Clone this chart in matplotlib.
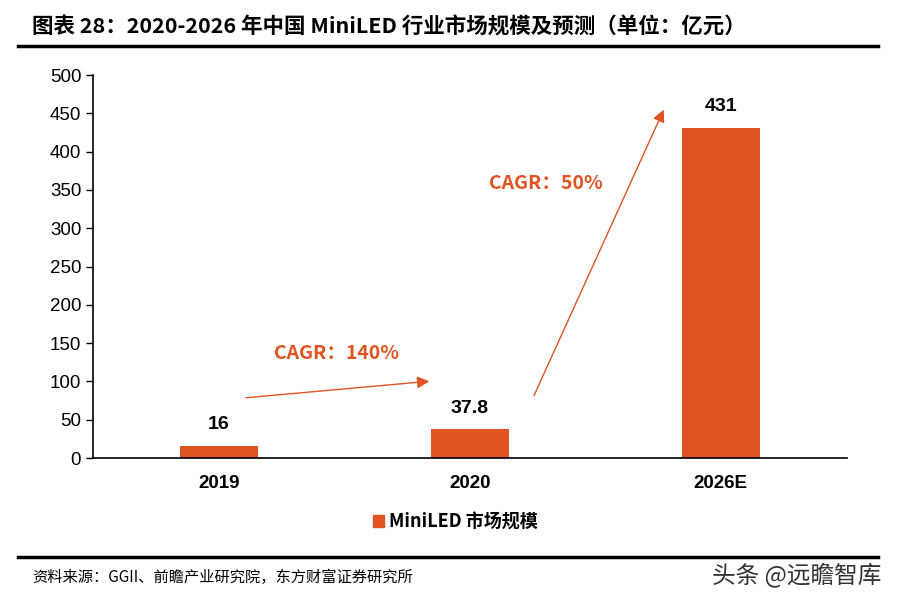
import matplotlib.pyplot as plt
from matplotlib.patches import Patch

plt.rcParams['font.family'] = ['Liberation Sans', 'Noto Sans CJK SC', 'DejaVu Sans']

years = ['2019', '2020', '2026E']
market = [16, 37.8, 431]
value_labels = ['16', '37.8', '431']
bar_color = '#E05424'

fig = plt.figure(figsize=(8.98, 6.02), dpi=100)
ax = fig.add_axes([0.1036, 0.2392, 0.8394, 0.6362])

x = range(len(years))
ax.bar(x, market, width=0.31, color=bar_color)
for xi, v, lab in zip(x, market, value_labels):
    ax.annotate(lab, (xi, v), xytext=(0, 9), textcoords='offset points',
                ha='center', va='bottom', fontsize=14, fontweight='bold')

ax.set_xlim(-0.502, 2.502)
ax.set_ylim(0, 500)
ax.set_yticks(range(0, 501, 50))
ax.set_xticks(list(x))
ax.set_xticklabels(years, fontweight='bold')
ax.tick_params(axis='y', labelsize=13.5, direction='out', length=5, width=1)
ax.tick_params(axis='x', labelsize=13.5, length=0, pad=12)
for s in ['top', 'right']:
    ax.spines[s].set_visible(False)
ax.spines['left'].set_linewidth(1.2)
ax.spines['bottom'].set_linewidth(1.2)

# CAGR arrows
arrow = dict(arrowstyle='-|>', color=bar_color, lw=1, mutation_scale=18)
ax.annotate('', xy=(0.849, 100.5), xytext=(0.096, 78.3), arrowprops=arrow)
ax.annotate('', xy=(1.777, 458), xytext=(1.251, 78.3), arrowprops=arrow)
ax.text(0.47, 135.8, 'CAGR：140%', color=bar_color, fontsize=14, fontweight='bold',
        ha='center', va='center', family=['Noto Sans CJK SC', 'DejaVu Sans'])
ax.text(1.303, 359, 'CAGR：50%', color=bar_color, fontsize=14, fontweight='bold',
        ha='center', va='center', family=['Noto Sans CJK SC', 'DejaVu Sans'])

leg = fig.legend(handles=[Patch(color=bar_color)], labels=['MiniLED 市场规模'],
                 loc='center', bbox_to_anchor=(0.507, 0.133), frameon=False,
                 handlelength=0.6, handleheight=0.6, handletextpad=0.3,
                 prop={'family': 'Noto Sans CJK SC', 'weight': 'bold', 'size': 13})

# title and footer
fig.text(0.036, 0.955, '图表 28：2020-2026 年中国 MiniLED 行业市场规模及预测（单位：亿元）',
         fontsize=15.5, fontweight='bold', va='center', family='Noto Sans CJK SC')
fig.add_artist(plt.Line2D([0.02, 0.978], [0.923, 0.923], color='black', lw=2.5))
fig.add_artist(plt.Line2D([0.02, 0.978], [0.075, 0.075], color='black', lw=2.5))
fig.text(0.036, 0.04, '资料来源：GGII、前瞻产业研究院，东方财富证券研究所',
         fontsize=11, va='center', family='Noto Sans CJK SC')
fig.text(0.982, 0.045, '头条 @远瞻智库', fontsize=17, va='center', ha='right',
         color='#333333', family='Noto Sans CJK SC')

fig.savefig('out.png', dpi=100)
